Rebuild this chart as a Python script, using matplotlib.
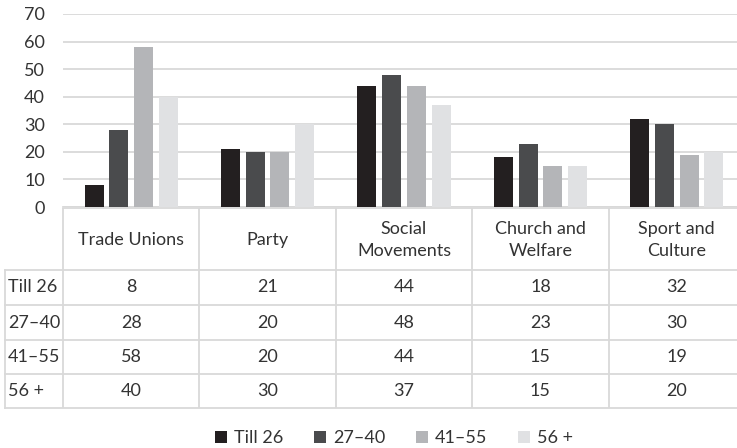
import numpy as np
import matplotlib
matplotlib.use("Agg")
import matplotlib.pyplot as plt
from matplotlib.patches import Patch

plt.rcParams['font.family'] = ['Lato', 'DejaVu Sans']

categories = ["Trade Unions", "Party", "Social\nMovements", "Church and\nWelfare", "Sport and\nCulture"]
groups = ["Till 26", "27\u201340", "41\u201355", "56 +"]
till_26 = [8, 21, 44, 18, 32]
age_27_40 = [28, 20, 48, 23, 30]
age_41_55 = [58, 20, 44, 15, 19]
age_56_plus = [40, 30, 37, 15, 20]
series = [till_26, age_27_40, age_41_55, age_56_plus]
colors = ["#231f20", "#4a4b4d", "#b4b5b8", "#e0e1e3"]

W, H = 737, 448
grid_c = "#d9d9d9"
text_c = "#333333"
fs = 13

fig = plt.figure(figsize=(W / 100, H / 100), dpi=100)

# bar chart area (in pixels: x 63..745, y 14..207)
ax = fig.add_axes([63 / W, 1 - 207 / H, (745 - 63) / W, (207 - 14) / H])
x = np.arange(len(categories))
pitch = 0.181
bw = 0.139
for i, vals in enumerate(series):
    ax.bar(x + (i - 1.5) * pitch, vals, width=bw, color=colors[i], zorder=3)
ax.set_xlim(-0.5, 4.5)
ax.set_ylim(0, 70)
ax.set_yticks(np.arange(0, 71, 10))
ax.set_xticks([])
ax.yaxis.grid(True, color=grid_c, linewidth=1.3, zorder=0)
for s in ["top", "right", "left"]:
    ax.spines[s].set_visible(False)
ax.spines["bottom"].set_color(grid_c)
ax.spines["bottom"].set_linewidth(1.3)
ax.tick_params(axis="y", length=0, pad=13, labelsize=fs, labelcolor=text_c)

# data table below the bars (pixels: x 5..745, y 208..408)
tx0, tx1, ty0, ty1 = 5, 745, 208, 408
tab = fig.add_axes([tx0 / W, 1 - ty1 / H, (tx1 - tx0) / W, (ty1 - ty0) / H])
left_col = -0.5 - (63 - 5) / 136.4
tab.set_xlim(left_col, 4.5)
tab.set_ylim(ty1, ty0)
tab.axis("off")

row_edges = [208, 270, 305, 340, 374, 408]
lw = 1.3
# horizontal rules
tab.plot([-0.5, 4.5], [row_edges[0]] * 2, color=grid_c, lw=lw)
for yy in row_edges[1:]:
    tab.plot([left_col, 4.5], [yy, yy], color=grid_c, lw=lw, clip_on=False)
# vertical rules
tab.plot([left_col, left_col], [row_edges[1], row_edges[-1]], color=grid_c, lw=lw, clip_on=False)
for xx in np.arange(-0.5, 3.6, 1.0):
    tab.plot([xx, xx], [row_edges[0], row_edges[-1]], color=grid_c, lw=lw)

# header
for i, cat in enumerate(categories):
    tab.text(i, (row_edges[0] + row_edges[1]) / 2 + 1, cat, ha="center", va="center",
             fontsize=fs, color=text_c, linespacing=1.5)
# rows
for r, (name, vals) in enumerate(zip(groups, series)):
    yc = (row_edges[r + 1] + row_edges[r + 2]) / 2
    tab.text(left_col + 0.022, yc, name, ha="left", va="center", fontsize=fs, color=text_c)
    for i, v in enumerate(vals):
        tab.text(i, yc, str(v), ha="center", va="center", fontsize=fs, color=text_c)

handles = [Patch(facecolor=c, edgecolor="none") for c in colors]
fig.legend(handles, groups, loc="center", bbox_to_anchor=(394 / W, 1 - 438 / H), ncol=4,
           frameon=False, fontsize=fs, handlelength=0.65, handleheight=0.65,
           handletextpad=0.4, columnspacing=1.7, labelcolor=text_c)

fig.savefig("out.png", dpi=100)
